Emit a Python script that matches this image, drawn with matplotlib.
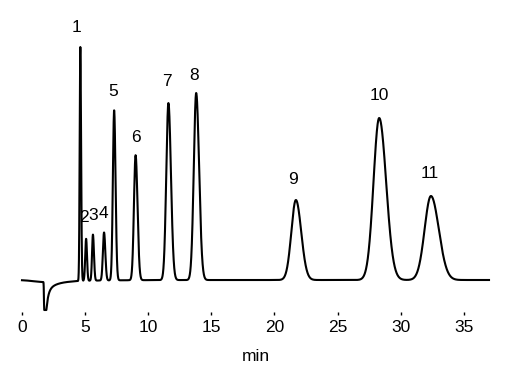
import numpy as np
import matplotlib
matplotlib.use("Agg")
import matplotlib.pyplot as plt

# Peak table (time in min, height in signal units)
peak_labels = ["1", "2", "3", "4", "5", "6", "7", "8", "9", "10", "11"]
peak_time   = [4.62, 5.08, 5.62, 6.50, 7.30, 9.00, 11.60, 13.80, 21.70, 28.30, 32.40]
peak_height = [234, 42, 46, 48, 170, 125, 177, 187, 80, 162, 84]
peak_sig_l  = [0.05, 0.07, 0.07, 0.09, 0.10, 0.13, 0.17, 0.19, 0.36, 0.45, 0.50]
peak_sig_r  = [0.06, 0.07, 0.08, 0.10, 0.11, 0.15, 0.20, 0.23, 0.42, 0.55, 0.62]
# label offsets in pixels relative to each peak apex
label_dx = [-4, -2, 0, -1, -1, 0, -1, -2, -3, 0, -1]
label_dy = [19, 20, 19, 19, 19, 18, 22, 18, 20, 23, 23]

# Injection disturbance (negative dip): onset, end of flat bottom, components
dip_onset = 1.76
dip_time  = 1.93
dip_depth = [19, 9, 2]
dip_tau   = [0.15, 0.7, 3.0]
dip_rise  = [0.03, 0.03, 1.2]

t_end = 37.0
t = np.linspace(0, t_end, 8000)
y = np.zeros_like(t)
for tr, h, sl, sr in zip(peak_time, peak_height, peak_sig_l, peak_sig_r):
    s = np.where(t < tr, sl, sr)
    y += h * np.exp(-0.5 * ((t - tr) / s) ** 2)
for d, tau, r in zip(dip_depth, dip_tau, dip_rise):
    shape = np.where(t < dip_onset, np.exp(-((t - dip_onset) / r) ** 2),
                     np.where(t < dip_time, 1.0, np.exp(-(t - dip_time) / tau)))
    y -= d * shape

W, H = 510, 378
fig = plt.figure(figsize=(W / 100, H / 100), dpi=100)
left_px, right_px = 22, 489
bottom_px, top_px = 312, 0
ax = fig.add_axes([left_px / W, (H - bottom_px) / H,
                   (right_px - left_px) / W, (bottom_px - top_px) / H])
ax.plot(t, y, color="black", lw=1.5, clip_on=False)
ax.set_xlim(0, t_end)
ax.set_ylim(-32, 280)
for sp in ax.spines.values():
    sp.set_visible(False)
ax.set_yticks([])
ax.set_xticks(np.arange(0, 36, 5))
ax.tick_params(axis="x", direction="out", length=2.5, width=1, pad=3,
               labelsize=12.5)
for lab in ax.get_xticklabels():
    lab.set_fontfamily("Liberation Sans")
ax.set_xlabel("min", fontsize=12.5, family="Liberation Sans", labelpad=10)

for lab, tr, h, dx, dy in zip(peak_labels, peak_time, peak_height, label_dx, label_dy):
    ax.annotate(lab, (tr, h), xytext=(dx * 0.72, dy * 0.72),
                textcoords="offset points", ha="center", va="center",
                fontsize=12.5, family="Liberation Sans", annotation_clip=False)

fig.savefig("out.png", dpi=100)
